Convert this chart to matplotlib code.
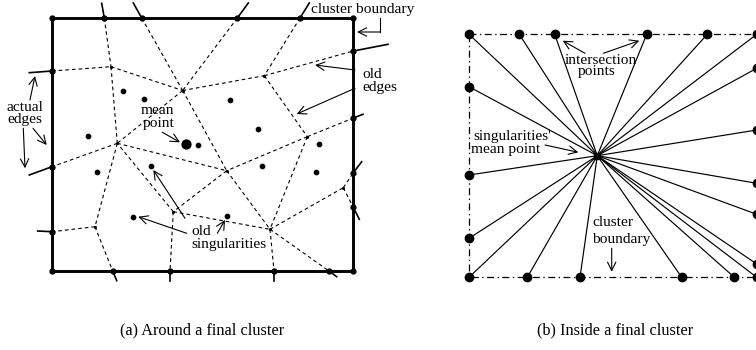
import matplotlib
matplotlib.use('Agg')
import matplotlib.pyplot as plt

plt.rcParams['font.family'] = ['Liberation Serif', 'DejaVu Serif']
plt.rcParams['lines.scale_dashes'] = False

#%% (a) around a final cluster -- pixel coords of the drawing
box_x = [52, 353.3, 353.3, 52, 52]
box_y = [18, 18, 271, 271, 18]

# old voronoi vertices
vert_x = [111, 182.7, 264.3, 307.3, 117.3, 226.7, 173.3, 95, 270, 343.3]
vert_y = [66.7, 90.5, 75.7, 136.7, 143.3, 170.7, 211.7, 226.7, 229.3, 187.7]

# points where old edges meet the cluster boundary, and the actual edge stub
bnd_x = [104.3, 141.7, 237.3, 300, 52, 52, 52, 112.7, 170, 274, 329, 353.3, 353.3, 353.3, 353.3]
bnd_y = [18, 18, 18, 18, 71, 166.7, 231.7, 271, 271, 271, 271, 51, 118, 172.7, 207.3]
stub_x = [101.7, 133.3, 248.3, 309.3, 29.3, 29.3, 37.7, 116.7, 170, 274, 336.7, 388, 363, 361.7, 359.3]
stub_y = [3.3, 3, 3, 3, 72.7, 175, 231, 280.7, 280.7, 280.7, 276.7, 44.3, 114.3, 161.7, 219.3]

# old edges: ('v', i) vertex, ('b', i) boundary point
old_edges = [(('b', 0), ('v', 0)), (('b', 1), ('v', 1)), (('b', 2), ('v', 1)), (('b', 3), ('v', 2)),
             (('b', 4), ('v', 0)), (('v', 0), ('v', 1)), (('v', 0), ('v', 4)), (('v', 1), ('v', 2)),
             (('v', 2), ('b', 11)), (('v', 2), ('v', 3)), (('v', 3), ('b', 12)), (('v', 1), ('v', 4)),
             (('v', 1), ('v', 5)), (('v', 3), ('v', 5)), (('v', 3), ('v', 8)), (('v', 4), ('v', 5)),
             (('v', 5), ('v', 6)), (('v', 5), ('v', 8)), (('v', 6), ('v', 8)), (('v', 8), ('v', 9)),
             (('v', 9), ('b', 13)), (('v', 9), ('b', 14)), (('v', 8), ('b', 9)), (('v', 8), ('b', 10)),
             (('v', 6), ('b', 8)), (('v', 6), ('v', 4)), (('v', 4), ('b', 5)), (('v', 4), ('v', 7)),
             (('v', 7), ('b', 6)), (('v', 7), ('b', 7))]

sing_x = [123.3, 144.3, 88.3, 197.7, 230, 257.7, 319.3, 96.7, 150.7, 133.3, 262.3, 316, 227.3]
sing_y = [90.7, 99, 135.7, 145, 100, 129, 143.7, 172.3, 165.7, 216.7, 165.7, 172.3, 215.5]
mean_a = (186, 144.3)

#%% (b) inside a final cluster
box_b_x = [469, 756.7, 756.7, 469, 469]
box_b_y = [34.3, 34.3, 277.3, 277.3, 34.3]
top_x = [469, 519.3, 554.7, 646.7, 707.3, 756.7]
left_y = [86.7, 175, 238.3]
bottom_x = [469, 527.3, 580, 681.7, 734.3, 756.7]
right_y = [68.3, 130, 183.3, 214.3, 264]
mean_b = (597.3, 155.7)


def pt(ref):
    kind, i = ref
    if kind == 'v':
        return vert_x[i], vert_y[i]
    return bnd_x[i], bnd_y[i]


fig = plt.figure(figsize=(7.56, 3.5), dpi=100)
ax = fig.add_axes([0, 0, 1, 1])
ax.set_xlim(0, 756)
ax.set_ylim(350, 0)
ax.axis('off')

# ---- panel (a)
for a, b in old_edges:
    (x1, y1), (x2, y2) = pt(a), pt(b)
    ax.plot([x1, x2], [y1, y2], color='black', lw=0.8, dashes=(2.6, 2.2))
for i in range(len(bnd_x)):
    ax.plot([bnd_x[i], stub_x[i]], [bnd_y[i], stub_y[i]], color='black', lw=1.2)
ax.plot(box_x, box_y, color='black', lw=2.1, solid_joinstyle='miter')
ax.plot(bnd_x + box_x[:4], bnd_y + box_y[:4], 'o', color='black', ms=3.5, ls='none')
ax.plot(vert_x, vert_y, 'o', color='black', ms=1.2, ls='none')
ax.plot(sing_x, sing_y, 'o', color='black', ms=3.1, ls='none')
ax.plot(*mean_a, 'o', color='black', ms=6.4)

# ---- panel (b)
ring = ([(x, box_b_y[0]) for x in top_x] + [(box_b_x[0], y) for y in left_y]
        + [(x, box_b_y[2]) for x in bottom_x] + [(box_b_x[1], y) for y in right_y])
for x, y in ring:
    ax.plot([mean_b[0], x], [mean_b[1], y], color='black', lw=0.85)
ax.plot(box_b_x, box_b_y, color='black', lw=0.9, dashes=(5, 2.5, 1, 2.5))
ax.plot([p[0] for p in ring], [p[1] for p in ring], 'o', color='black', ms=6.0, ls='none')
ax.plot(*mean_b, 's', color='black', ms=4.8)

# ---- labels
fs = 11.1
txt = dict(fontsize=fs, va='center', color='black')
labels = [
    ('cluster boundary', 311, 10, 'left'),
    ('old', 362, 75, 'left'), ('edges', 362, 88, 'left'),
    ('actual', 25, 107.5, 'center'), ('edges', 25, 119.5, 'center'),
    ('mean', 157, 111, 'center'), ('point', 159, 123, 'center'),
    ('old', 191, 231.5, 'left'), ('singularities', 191, 244.5, 'left'),
    ('intersection', 600.5, 60.5, 'center'), ('points', 597, 72, 'center'),
    ("singularities'", 512, 136.5, 'center'), ('mean point', 506, 149, 'center'),
    ('cluster', 592, 223, 'left'), ('boundary', 592, 239, 'left'),
]
for s, x, y, ha in labels:
    ax.text(x, y, s, ha=ha, **txt)

ax.text(202, 330, '(a) Around a final cluster', ha='center', va='center', fontsize=11.7)
ax.text(615, 330, '(b) Inside a final cluster', ha='center', va='center', fontsize=11.7)

arrows = [((30, 100), (35, 76)), ((33, 128.3), (46.7, 145)), ((23.3, 128.3), (25, 168.3)),
          ((162.3, 132.3), (180, 142.3)),
          ((355, 70), (315, 65)), ((355, 88.3), (296.7, 114)),
          ((186.7, 233.3), (138.3, 216.7)), ((185, 218.3), (153.3, 170)), ((217.3, 233.3), (225, 220)),
          ((380, 32), (357, 32)),
          ((585, 53.3), (562.7, 40.7)), ((603.3, 53.3), (639.3, 40.7)),
          ((545, 145), (578.3, 152.3)),
          ((611.7, 248.3), (611.7, 271.7))]
for start, end in arrows:
    ax.annotate('', xy=end, xytext=start,
                arrowprops=dict(arrowstyle='->,head_length=0.6,head_width=0.3', lw=0.8,
                                color='black', shrinkA=0, shrinkB=0, mutation_scale=10))
ax.plot([380, 380], [18, 32], color='black', lw=0.8)

fig.savefig('out.png', dpi=100)
